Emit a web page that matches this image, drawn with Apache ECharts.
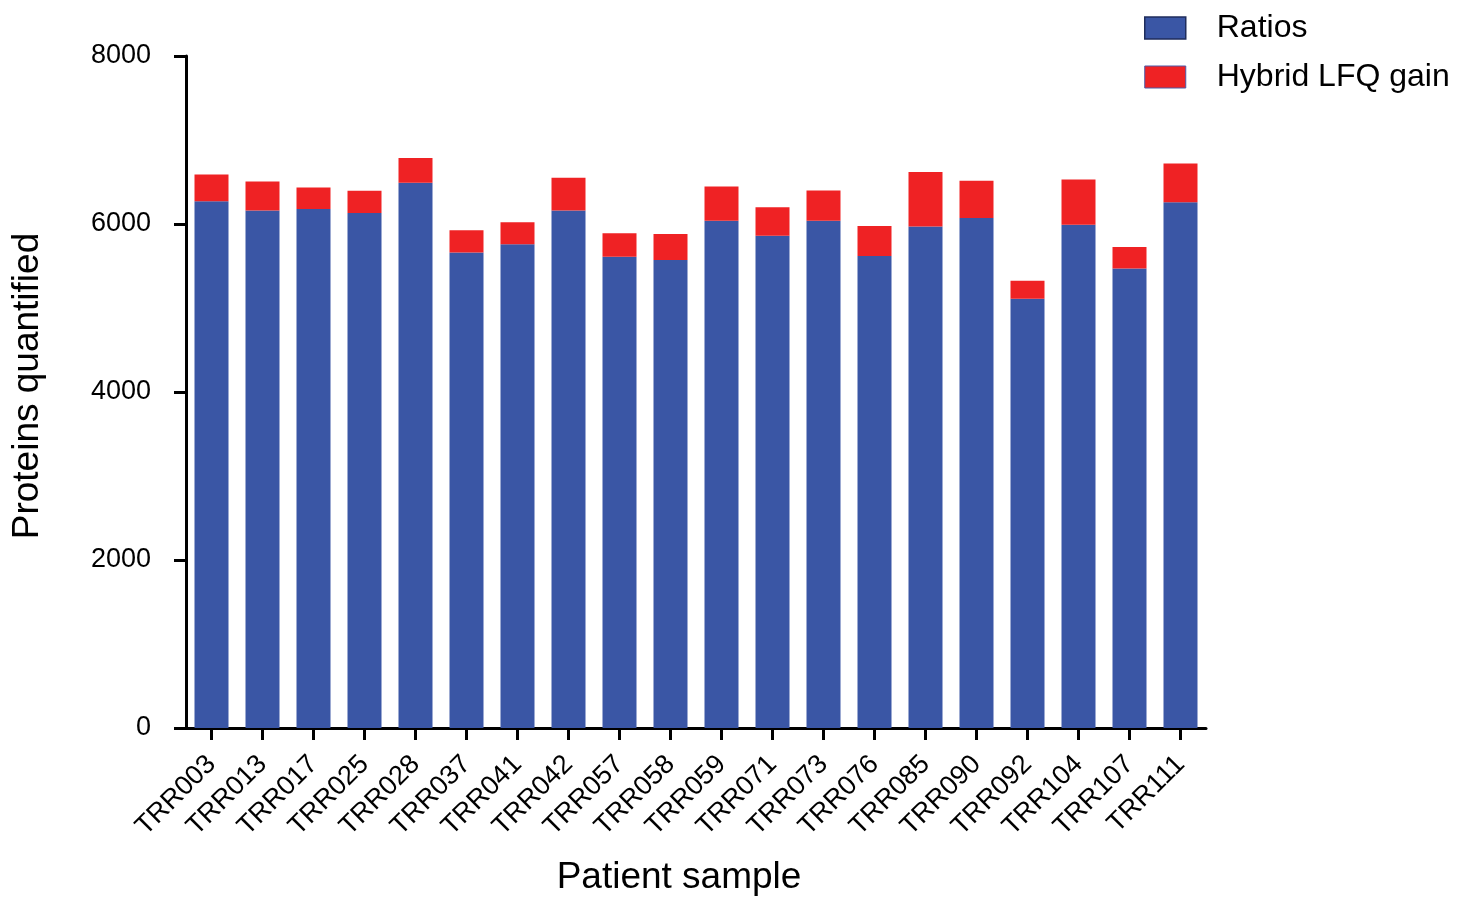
<!DOCTYPE html>
<html>
<head>
<meta charset="utf-8">
<script src="https://cdn.jsdelivr.net/npm/echarts@6/dist/echarts.min.js"></script>
<style>
html,body{margin:0;padding:0;background:#fff;}
#main{width:1465px;height:901px;}
</style>
</head>
<body>
<div id="main"></div>
<script>
const categories = ['TRR003','TRR013','TRR017','TRR025','TRR028','TRR037','TRR041','TRR042','TRR057','TRR058','TRR059','TRR071','TRR073','TRR076','TRR085','TRR090','TRR092','TRR104','TRR107','TRR111'];
const ratios = [6270,6160,6180,6130,6490,5660,5760,6160,5610,5570,6040,5860,6040,5620,5970,6070,5110,5990,5470,6260];
const hybridGain = [320,345,255,265,295,265,260,390,280,310,405,340,360,355,650,445,215,540,255,460];
const yTicks = {min:0, max:8000, interval:2000};

const font = 'Liberation Sans, Arial, Helvetica, sans-serif';
const chart = echarts.init(document.getElementById('main'));
chart.setOption({
  animation:false,
  backgroundColor:'#ffffff',
  textStyle:{fontFamily:font},
  legend:{
    orient:'vertical', left:1139, top:7, icon:'rect',
    itemWidth:41, itemHeight:22, itemGap:17,
    textStyle:{fontSize:32, color:'#000', fontFamily:font, padding:[0,0,0,26]},
    data:[
      {name:'Ratios', itemStyle:{borderColor:'#1f2d5c', borderWidth:1.5}},
      {name:'Hybrid LFQ gain', itemStyle:{borderColor:'#4a5aa8', borderWidth:1}}
    ]
  },
  grid:{left:186, right:259, top:56, bottom:166, containLabel:false},
  xAxis:{
    type:'category', data:categories,
    name:'Patient sample', nameLocation:'middle', nameGap:131,
    nameTextStyle:{fontSize:37, color:'#000', fontFamily:font, padding:[0,34,0,0]},
    axisLine:{lineStyle:{color:'#000', width:3}},
    axisTick:{show:true, alignWithLabel:true, length:12, lineStyle:{color:'#000', width:3}},
    axisLabel:{rotate:45, fontSize:27, color:'#000', margin:32, fontFamily:font, interval:0}
  },
  yAxis:{
    type:'value', min:yTicks.min, max:yTicks.max, interval:yTicks.interval,
    name:'Proteins quantified', nameLocation:'middle', nameGap:140,
    nameTextStyle:{fontSize:37, color:'#000', fontFamily:font, padding:[0,0,0,12]},
    axisLine:{show:true, lineStyle:{color:'#000', width:3}},
    axisTick:{show:true, length:12, lineStyle:{color:'#000', width:3}},
    axisLabel:{fontSize:27, color:'#000', margin:35, fontFamily:font, formatter:function(v){return String(v);}},
    splitLine:{show:false}
  },
  series:[
    {name:'Ratios', type:'bar', stack:'total', data:ratios, barWidth:34,
     itemStyle:{color:'#3a56a5'}},
    {name:'Hybrid LFQ gain', type:'bar', stack:'total', data:hybridGain, barWidth:34,
     itemStyle:{color:'#ef2224'}}
  ]
});
</script>
</body>
</html>
